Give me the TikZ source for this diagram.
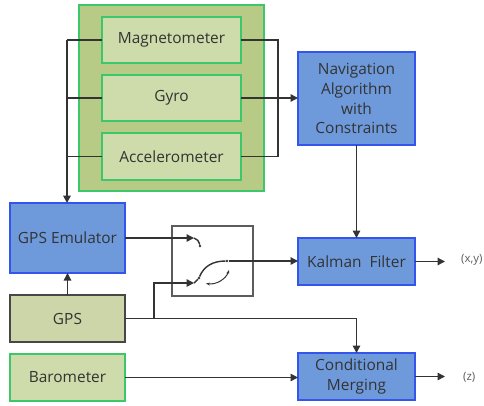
\documentclass[tikz,border=0pt]{standalone}
\usepackage{fontspec}
\setmainfont{Open Sans}
\usepackage{xcolor}
\usetikzlibrary{positioning}
\usetikzlibrary{arrows, arrows.meta}

\definecolor{outerfill}{HTML}{B7CA86}
\definecolor{sensfill}{HTML}{CDDCAA}
\definecolor{sensline}{HTML}{3CC76A}
\definecolor{bluefill}{HTML}{6E9ADB}
\definecolor{blueline}{HTML}{3355EE}
\definecolor{gpsfill}{HTML}{CCD6A8}
\definecolor{wire}{HTML}{333333}

\tikzset{
  block/.style={rectangle, inner sep=0pt, outer sep=0pt, line width=1.2bp,
    font=\fontsize{15.5}{20}\selectfont, text=wire, align=center},
  sensor/.style={block, fill=sensfill, draw=sensline},
  algo/.style={block, fill=bluefill, draw=blueline},
  outlabel/.style={font=\fontsize{11.5}{13}\selectfont, text=wire!80, anchor=west, inner sep=0pt},
  wires/.style={draw=wire, line width=1.4bp},
  contact/.style={fill=wire, circle, inner sep=0pt, minimum size=2.6bp}
}

\begin{document}
\begin{tikzpicture}[x=1bp, y=-1bp, >={Triangle[length=7.5bp,width=7.5bp]}]
  \useasboundingbox (0,0) rectangle (484,405);

  % IMU group
  \node[block, fill=outerfill, draw=sensline, minimum width=185bp, minimum height=186bp] (imu) at (171.5,98) {};
  \node[sensor, minimum width=139bp, minimum height=46bp] (mag) at (171.5,40) {Magnetometer};
  \node[sensor, minimum width=139bp, minimum height=46bp] (gyro) at (171.5,98) {Gyro};
  \node[sensor, minimum width=139bp, minimum height=47bp] (acc) at (171.5,156.5) {Accelerometer};

  % right column
  \node[algo, minimum width=117bp, minimum height=93bp] (nav) at (356.5,98.5) {Navigation\\Algorithm\\with\\Constraints};
  \node[algo, minimum width=117bp, minimum height=47bp] (kal) at (356.5,261.5) {Kalman~~Filter};
  \node[algo, minimum width=117bp, minimum height=47bp] (cond) at (356.5,376.5) {Conditional\\Merging};

  % left column
  \node[algo, minimum width=115bp, minimum height=70bp] (emu) at (67.5,238) {GPS Emulator};
  \node[block, fill=gpsfill, draw=wire!90, minimum width=115bp, minimum height=47bp] (gps) at (67.5,318.5) {GPS};
  \node[sensor, minimum width=115bp, minimum height=47bp] (baro) at (67.5,377.5) {Barometer};

  % switch
  \node[block, draw=wire!80, minimum width=81bp, minimum height=70bp] (sw) at (212.5,261) {};
  \coordinate (swA) at (194,238);
  \coordinate (swB) at (194,283);
  \node[contact] (swA2) at (200,246) {};
  \node[contact] (swB2) at (199,278) {};
  \node[contact] (swC) at (227,261) {};
  \coordinate (swD) at (206,283.5);
  \coordinate (swE) at (229,270);

  \node[outlabel] (xy) at (461,260) {(x,y)};
  \node[outlabel] (z) at (463,377) {(z)};
  \coordinate (xyEnd) at (445,261.5);
  \coordinate (zEnd) at (445,376.5);

  \coordinate (busL) at (67,40);
  \coordinate (busR) at (278,40);
  \coordinate (jn) at (154,318.5);

  % sensor buses
  \draw[wires] (mag.west) -- (busL);
  \draw[wires] (gyro.west) -- (gyro.west -| busL);
  \draw[wires] (acc.west) -- (acc.west -| busL);
  \draw[wires, line width=1.8bp, ->] (busL) -- (emu.north -| busL);
  \draw[wires] (mag.east) -- (busR) -- (acc.east -| busR) -- (acc.east);
  \draw[wires, ->] (gyro.east) -- (gyro.east -| nav.west);

  \draw[wires, ->] (nav) -- (kal);
  \draw[wires, ->] (gps) -- (emu);
  \draw[wires, ->] (gps.east) -| (cond.north);
  \draw[wires, ->] (baro.east) -- (baro.east -| cond.west);

  % switch wiring
  \draw[wires, ->] (emu.east |- swA) -- (swA);
  \draw[wires] (swA) to[bend left=30] (swA2);
  \draw[wires, ->] (jn) |- (swB);
  \draw[wires] (swB) -- (swB2);
  \draw[wires] (swB2) .. controls (204,266) and (213,261) .. (swC);
  \draw[wires, line width=1bp, {Stealth[length=4bp]}-{Stealth[length=4bp]}] (swD) .. controls (216,285) and (226,279) .. (swE);
  \draw[wires, ->] (swC) -- (swC -| kal.west);

  % outputs
  \draw[wires, ->] (kal.east) -- (xyEnd);
  \draw[wires, ->] (cond.east) -- (zEnd);
\end{tikzpicture}
\end{document}
